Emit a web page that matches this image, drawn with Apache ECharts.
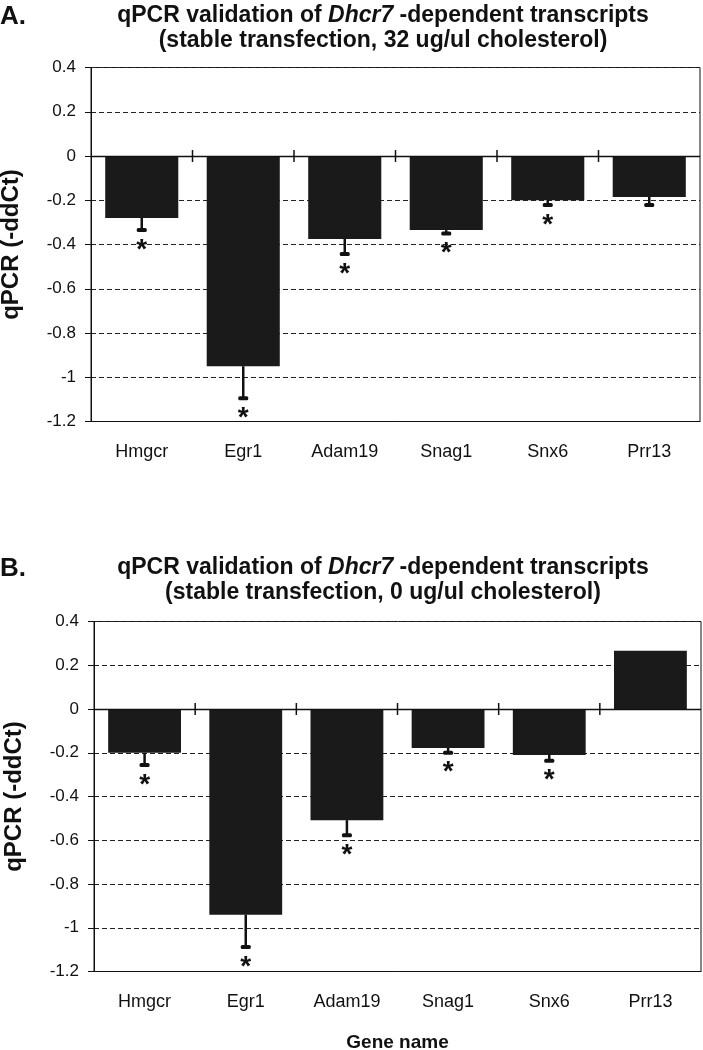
<!DOCTYPE html>
<html>
<head>
<meta charset="utf-8">
<script src="https://cdn.jsdelivr.net/npm/echarts@6/dist/echarts.min.js"></script>
<style>
html,body{margin:0;padding:0;background:#fff;}
#chart{width:703px;height:1050px;}
</style>
</head>
<body>
<div id="chart"></div>
<script>
// ---- data ----
const categories = ['Hmgcr', 'Egr1', 'Adam19', 'Snag1', 'Snx6', 'Prr13'];
// Panel A: stable transfection, 32 ug/ul cholesterol
const valuesA = [-0.28, -0.95, -0.375, -0.335, -0.20, -0.185];
const errEndA = [-0.335, -1.095, -0.443, -0.35, -0.222, -0.222];
const sigA = [1, 1, 1, 1, 1, 0];
// Panel B: stable transfection, 0 ug/ul cholesterol
const valuesB = [-0.20, -0.94, -0.508, -0.178, -0.21, 0.266];
const errEndB = [-0.256, -1.088, -0.577, -0.20, -0.236, null];
const sigB = [1, 1, 1, 1, 1, 0];
// axis
const yMin = -1.2, yMax = 0.4, yStep = 0.2;
const titleA1 = ['qPCR validation of ', 'Dhcr7', ' -dependent transcripts'];
const titleA2 = '(stable transfection, 32 ug/ul cholesterol)';
const titleB2 = '(stable transfection, 0 ug/ul cholesterol)';
const yName = 'qPCR (-ddCt)';
const xName = 'Gene name';

const FONT = "'Liberation Sans', Arial, sans-serif";
const INK = '#111';

function errData(vals, errs, sig) {
  const out = [];
  vals.forEach((v, i) => { if (errs[i] !== null) out.push([i, v, errs[i], sig[i]]); });
  return out;
}
function errRender(params, api) {
  const i = api.value(0), v = api.value(1), e = api.value(2), s = api.value(3);
  const p0 = api.coord([i, v]);
  const p1 = api.coord([i, e]);
  const ch = [
    {type: 'line', shape: {x1: p0[0], y1: p0[1], x2: p1[0], y2: p1[1]}, style: {stroke: INK, lineWidth: 2.5}},
    {type: 'rect', shape: {x: p1[0] - 5, y: p1[1] - 2, width: 10, height: 4, r: 1.5}, style: {fill: INK}}
  ];
  if (s) {
    ch.push({type: 'text', x: p1[0], y: p1[1] + 20,
      style: {text: '*', fill: INK, font: 'bold 28px ' + FONT, align: 'center', verticalAlign: 'middle'}});
  }
  return {type: 'group', children: ch};
}
function tickRender(params, api) {
  const i = api.value(0);
  const p = api.coord([i, 0]);
  const w = api.size([1, 0])[0];
  const x = p[0] + w / 2;
  return {type: 'line', shape: {x1: x, y1: p[1] - 6, x2: x, y2: p[1] + 6}, style: {stroke: INK, lineWidth: 1.5}};
}
const boundaries = categories.slice(0, -1).map((c, i) => [i, 0]);

function titleRich(line2) {
  return {
    text: '{b|' + titleA1[0] + '}{i|' + titleA1[1] + '}{b|' + titleA1[2] + '}\n{b|' + line2 + '}',
    textStyle: {
      rich: {
        b: {fontFamily: FONT, fontWeight: 'bold', fontSize: 23, color: INK, lineHeight: 25},
        i: {fontFamily: FONT, fontWeight: 'bold', fontStyle: 'italic', fontSize: 23, color: INK, lineHeight: 25}
      }
    }
  };
}

function yAxisCfg(gi) {
  return {
    gridIndex: gi, type: 'value', min: yMin, max: yMax, interval: yStep,
    name: yName, nameLocation: 'middle', nameRotate: 90, nameGap: 68,
    nameTextStyle: {fontFamily: FONT, fontWeight: 'bold', fontSize: 24, color: INK},
    axisLine: {show: true, lineStyle: {color: INK, width: 1}},
    axisTick: {show: true, length: 6, lineStyle: {color: INK, width: 1}},
    axisLabel: {fontFamily: FONT, fontSize: 17, color: INK, margin: 15},
    splitLine: {show: true, lineStyle: {color: '#222', type: [5, 3], width: 1}}
  };
}
function xAxisCfg(gi, withName) {
  const c = {
    gridIndex: gi, type: 'category', data: categories, position: 'bottom',
    axisLine: {onZero: false, show: true, lineStyle: {color: INK, width: 1}},
    axisTick: {show: false},
    axisLabel: {fontFamily: FONT, fontSize: 18, color: INK, margin: 22}
  };
  if (withName) {
    c.name = xName; c.nameLocation = 'middle'; c.nameGap = 62;
    c.nameTextStyle = {fontFamily: FONT, fontWeight: 'bold', fontSize: 19, color: INK};
  }
  return c;
}
function barSeries(gi, vals) {
  return {
    type: 'bar', xAxisIndex: gi, yAxisIndex: gi, data: vals, barWidth: '72%',
    itemStyle: {color: '#1a1a1a'}, silent: true,
    markLine: {silent: true, symbol: 'none', label: {show: false},
      lineStyle: {color: INK, type: 'solid', width: 1.3}, data: [{yAxis: 0}]}
  };
}

const chart = echarts.init(document.getElementById('chart'), null, {renderer: 'canvas'});
chart.setOption({
  animation: false,
  backgroundColor: '#fff',
  title: [
    Object.assign({left: 383, top: 3, padding: 0, textAlign: 'center'}, titleRich(titleA2)),
    Object.assign({left: 383, top: 555, padding: 0, textAlign: 'center'}, titleRich(titleB2)),
    {text: 'A.', left: 0, top: 4, padding: 0, textStyle: {fontFamily: FONT, fontWeight: 'bold', fontSize: 26, color: INK}},
    {text: 'B.', left: 0, top: 556, padding: 0, textStyle: {fontFamily: FONT, fontWeight: 'bold', fontSize: 26, color: INK}}
  ],
  grid: [
    {left: 91, right: 3, top: 67.5, height: 354, show: true, borderColor: INK, borderWidth: 1, backgroundColor: 'transparent', outerBoundsMode: 'none', containLabel: false},
    {left: 94, right: 2, top: 621.5, height: 350, show: true, borderColor: INK, borderWidth: 1, backgroundColor: 'transparent', outerBoundsMode: 'none', containLabel: false}
  ],
  xAxis: [xAxisCfg(0, false), xAxisCfg(1, true)],
  yAxis: [yAxisCfg(0), yAxisCfg(1)],
  series: [
    barSeries(0, valuesA),
    barSeries(1, valuesB),
    {type: 'custom', xAxisIndex: 0, yAxisIndex: 0, data: errData(valuesA, errEndA, sigA), renderItem: errRender, silent: true, z: 5},
    {type: 'custom', xAxisIndex: 1, yAxisIndex: 1, data: errData(valuesB, errEndB, sigB), renderItem: errRender, silent: true, z: 5},
    {type: 'custom', xAxisIndex: 0, yAxisIndex: 0, data: boundaries, renderItem: tickRender, silent: true, z: 6},
    {type: 'custom', xAxisIndex: 1, yAxisIndex: 1, data: boundaries, renderItem: tickRender, silent: true, z: 6}
  ]
});
</script>
</body>
</html>
